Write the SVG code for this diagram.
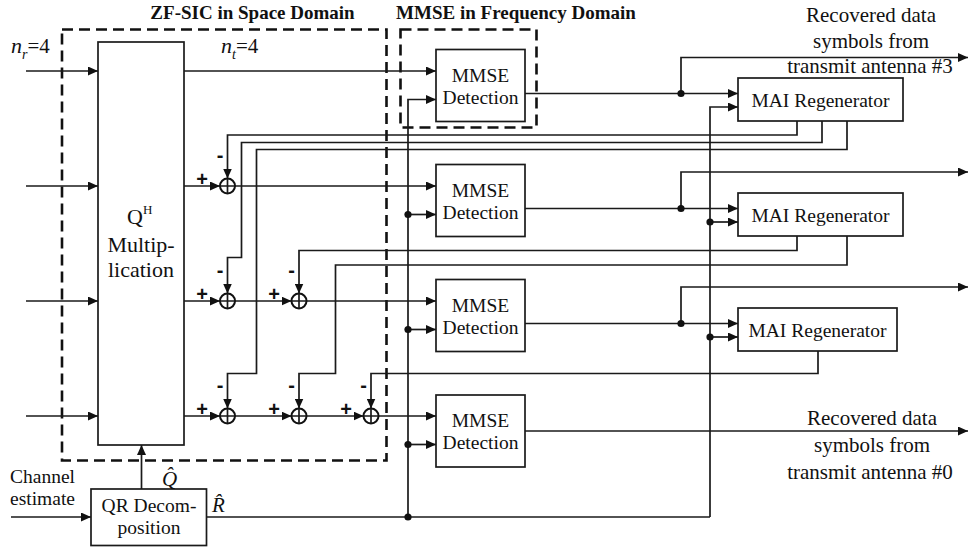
<svg xmlns="http://www.w3.org/2000/svg" width="973" height="551" viewBox="0 0 973 551" font-family="'Liberation Serif', 'Times New Roman', serif">
<defs>
<marker id="arr" viewBox="0 0 10 9" refX="10" refY="4.5" markerWidth="10" markerHeight="9" markerUnits="userSpaceOnUse" orient="auto">
<path d="M0,0 L10,4.5 L0,9 z" fill="#111"/>
</marker>
<style>
.ln{fill:none;stroke:#1a1a1a;stroke-width:1.7}
.ar{fill:none;stroke:#1a1a1a;stroke-width:1.7;marker-end:url(#arr)}
.box{fill:#fff;stroke:#1a1a1a;stroke-width:1.7}
.dash{fill:none;stroke:#111;stroke-width:2.6;stroke-dasharray:11 6}
.dot{fill:#111}
.sum{fill:#fff;stroke:#111;stroke-width:2}
text{font-family:'Liberation Serif','Times New Roman',serif;fill:#111}
.t{font-size:19.5px}
.tl{font-size:21px}
.tb{font-size:19px;font-weight:bold}
.sg{font-family:'Liberation Sans',Arial,sans-serif;font-size:20px;font-weight:bold}
.c{text-anchor:middle}
</style>
</defs>
<rect width="973" height="551" fill="#fff"/>

<g id="zf-sic-frame">
<rect class="dash" x="62" y="29.5" width="324.5" height="431"/>
<text class="tb c" x="252.5" y="18.5">ZF-SIC in Space Domain</text>
</g>
<g id="mmse-frame">
<rect class="dash" x="400.5" y="29.5" width="136" height="98"/>
<text class="tb c" x="516" y="18.5">MMSE in Frequency Domain</text>
</g>

<g id="connectors">
<path class="ar" d="M26,71 H98"/>
<path class="ar" d="M26,186 H98"/>
<path class="ar" d="M26,301 H98"/>
<path class="ar" d="M26,416 H98"/>
<path class="ar" d="M184,71 H436"/>
<path class="ar" d="M184,186 H220"/>
<path class="ar" d="M235,186 H436"/>
<path class="ar" d="M184,301 H220"/>
<path class="ar" d="M235,301 H291.5"/>
<path class="ar" d="M306.5,301 H436"/>
<path class="ar" d="M184,416 H220"/>
<path class="ar" d="M235,416 H291.5"/>
<path class="ar" d="M306.5,416 H363.5"/>
<path class="ar" d="M378.5,416 H436"/>
<path class="ar" d="M797,121 V135 H227.5 V178.5"/>
<path class="ar" d="M822,121 V142.5 H241.5 V257.5 H227.5 V293.5"/>
<path class="ar" d="M847,121 V149.5 H256.5 V373.5 H227.5 V408.5"/>
<path class="ar" d="M797,236 V250.5 H299 V293.5"/>
<path class="ar" d="M847,236 V265 H335.5 V373.5 H299 V408.5"/>
<path class="ar" d="M818,351 V373.5 H371 V408.5"/>
<path class="ar" d="M525,93.5 H738"/>
<path class="ar" d="M681,93.5 V57.5 H968"/>
<path class="ar" d="M525,208.5 H738"/>
<path class="ar" d="M681,208.5 V172 H968"/>
<path class="ar" d="M525,323.5 H738"/>
<path class="ar" d="M681,323.5 V287 H968"/>
<path class="ar" d="M525,431 H968"/>
<path class="ln" d="M206.5,517 H710"/>
<path class="ar" d="M408,517 V99.5 H436"/>
<path class="ar" d="M408,214.5 H436"/>
<path class="ar" d="M408,329.5 H436"/>
<path class="ar" d="M408,444.5 H436"/>
<path class="ar" d="M710,517 V107 H738"/>
<path class="ar" d="M710,222 H738"/>
<path class="ar" d="M710,337 H738"/>
<path class="ar" d="M11,517 H91"/>
<path class="ar" d="M141.5,489 V445"/>
<circle class="dot" cx="681" cy="93.5" r="3.6"/>
<circle class="dot" cx="681" cy="208.5" r="3.6"/>
<circle class="dot" cx="681" cy="323.5" r="3.6"/>
<circle class="dot" cx="408" cy="214.5" r="3.6"/>
<circle class="dot" cx="408" cy="329.5" r="3.6"/>
<circle class="dot" cx="408" cy="444.5" r="3.6"/>
<circle class="dot" cx="408" cy="517" r="3.6"/>
<circle class="dot" cx="710" cy="222" r="3.6"/>
<circle class="dot" cx="710" cy="337" r="3.6"/>
</g>

<g id="qh-mult">
<rect class="box" x="98" y="42" width="86" height="403"/>
<text x="127" y="224" font-size="22">Q<tspan font-size="13" dy="-10">H</tspan></text>
<text class="c" x="141" y="251.5" font-size="22">Multip-</text>
<text class="c" x="141" y="277" font-size="22">lication</text>
</g>

<g id="qr-decomp">
<rect class="box" x="91" y="489" width="115.5" height="56.5"/>
<text class="t c" x="149" y="512">QR Decom-</text>
<text class="t c" x="149" y="534">position</text>
</g>

<g id="sum-nodes">
<g id="s1-1"><circle class="sum" cx="227.5" cy="186" r="7.5"/><path class="ln" d="M220,186 H235 M227.5,178.5 V193.5"/></g>
<g id="s2-1"><circle class="sum" cx="227.5" cy="301" r="7.5"/><path class="ln" d="M220,301 H235 M227.5,293.5 V308.5"/></g>
<g id="s2-2"><circle class="sum" cx="299" cy="301" r="7.5"/><path class="ln" d="M291.5,301 H306.5 M299,293.5 V308.5"/></g>
<g id="s3-1"><circle class="sum" cx="227.5" cy="416" r="7.5"/><path class="ln" d="M220,416 H235 M227.5,408.5 V423.5"/></g>
<g id="s3-2"><circle class="sum" cx="299" cy="416" r="7.5"/><path class="ln" d="M291.5,416 H306.5 M299,408.5 V423.5"/></g>
<g id="s3-3"><circle class="sum" cx="371" cy="416" r="7.5"/><path class="ln" d="M363.5,416 H378.5 M371,408.5 V423.5"/></g>
<text class="sg c" x="202" y="186">+</text>
<text class="sg c" x="202" y="301">+</text>
<text class="sg c" x="274" y="301">+</text>
<text class="sg c" x="202" y="416">+</text>
<text class="sg c" x="274" y="416">+</text>
<text class="sg c" x="346" y="416">+</text>
<text class="sg c" x="220" y="162">-</text>
<text class="sg c" x="220" y="277">-</text>
<text class="sg c" x="291.5" y="277">-</text>
<text class="sg c" x="220" y="392">-</text>
<text class="sg c" x="291.5" y="392">-</text>
<text class="sg c" x="363.5" y="392">-</text>
</g>

<g id="mmse1"><rect class="box" x="436" y="49.5" width="89" height="72"/><text class="t c" x="480.5" y="81.5">MMSE</text><text class="t c" x="480.5" y="103.5">Detection</text></g>
<g id="mmse2"><rect class="box" x="436" y="164.5" width="89" height="72"/><text class="t c" x="480.5" y="196.5">MMSE</text><text class="t c" x="480.5" y="218.5">Detection</text></g>
<g id="mmse3"><rect class="box" x="436" y="279.5" width="89" height="72"/><text class="t c" x="480.5" y="311.5">MMSE</text><text class="t c" x="480.5" y="333.5">Detection</text></g>
<g id="mmse4"><rect class="box" x="436" y="395" width="89" height="72"/><text class="t c" x="480.5" y="426.5">MMSE</text><text class="t c" x="480.5" y="448.5">Detection</text></g>

<g id="mai1"><rect class="box" x="738" y="78" width="165" height="43"/><text class="t c" x="820.5" y="106.5">MAI Regenerator</text></g>
<g id="mai2"><rect class="box" x="738" y="193" width="165" height="43"/><text class="t c" x="820.5" y="221.5">MAI Regenerator</text></g>
<g id="mai3"><rect class="box" x="738" y="308" width="159" height="43"/><text class="t c" x="817.5" y="336.5">MAI Regenerator</text></g>

<g id="labels">
<text class="tl" x="11" y="53"><tspan font-style="italic" font-size="22">n</tspan><tspan font-style="italic" font-size="14" dy="6">r</tspan><tspan dy="-6">=4</tspan></text>
<text class="tl" x="221" y="53"><tspan font-style="italic" font-size="22">n</tspan><tspan font-style="italic" font-size="14" dy="6">t</tspan><tspan dy="-6">=4</tspan></text>
<text class="tl c" x="871" y="22">Recovered data</text>
<text class="tl c" x="871" y="47.5">symbols from</text>
<text class="tl c" x="870" y="73">transmit antenna #3</text>
<text class="tl c" x="872" y="425">Recovered data</text>
<text class="tl c" x="872" y="452">symbols from</text>
<text class="tl c" x="870" y="479">transmit antenna #0</text>
<text class="t" x="10" y="483">Channel</text>
<text class="t" x="10" y="505">estimate</text>
<text x="162" y="486" font-style="italic" font-size="21">Q̂</text>
<text x="212" y="512" font-style="italic" font-size="21">R̂</text>
</g>
</svg>
